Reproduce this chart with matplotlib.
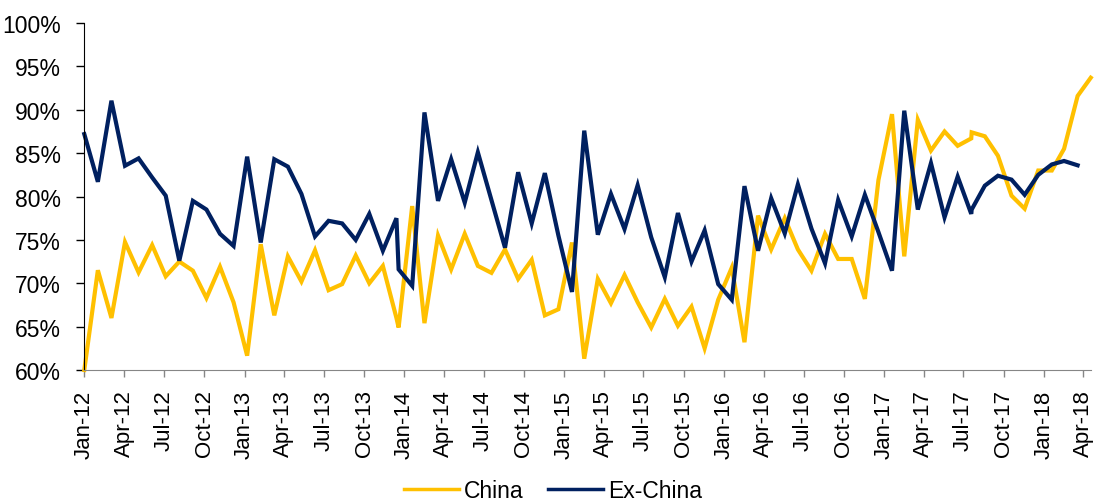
import numpy as np
import pandas as pd
import matplotlib
matplotlib.use("Agg")
import matplotlib.pyplot as plt
import matplotlib.dates as mdates
from matplotlib.ticker import FuncFormatter

plt.rcParams['font.family'] = ['Liberation Sans', 'DejaVu Sans']

# point dates as they sit on the source's date axis (Jan-12 .. May-18, Aug-17 twice)
dates_1213 = pd.date_range('2012-01-01', periods=24, freq='31D')
dates_1417 = pd.date_range('2014-01-01', '2017-08-01', freq='MS') - pd.Timedelta(days=13)
dates_aug17b = pd.DatetimeIndex(['2017-07-20'])
dates_1718 = pd.date_range('2017-09-01', '2018-05-01', freq='MS') - pd.Timedelta(days=13)
dates = dates_1213.append(dates_1417).append(dates_aug17b).append(dates_1718)

china = [60.0, 71.5, 66.0, 74.75, 71.25, 74.4, 70.8, 72.5, 71.45, 68.3, 71.9, 67.8,
         61.65, 74.5, 66.3, 73.1, 70.2, 73.8, 69.2, 69.9, 73.2, 70.0, 72.0, 66.0,
         64.9, 78.9, 65.4, 75.5, 71.6, 75.7, 72.0, 71.2, 73.9, 70.5, 72.7, 66.3,
         67.0, 74.7, 61.3, 70.5, 67.7, 70.95, 67.8, 64.9, 68.2, 65.1, 67.3, 62.5,
         68.1, 71.8, 63.2, 77.8, 73.9, 77.5, 73.9, 71.45, 75.7, 72.8, 72.8, 68.2,
         81.9, 89.5, 73.1, 88.85, 85.3, 87.5, 85.85, 86.7, 87.4,
         86.95, 84.7, 80.1, 78.6, 83.0, 83.0, 85.5, 91.6, 93.7]

ex_china = [87.2, 81.7, 91.05, 83.55, 84.4, 82.2, 80.1, 72.6, 79.5, 78.5, 75.7, 74.3,
            84.6, 74.7, 84.3, 83.45, 80.3, 75.4, 77.2, 76.9, 75.0, 78.0, 73.75, 77.5,
            71.6, 69.7, 89.7, 79.5, 84.3, 79.3, 85.1, 79.6, 74.1, 82.8, 76.9, 82.7,
            75.5, 69.0, 87.6, 75.6, 80.3, 76.25, 81.3, 75.3, 70.7, 78.1, 72.5, 76.1,
            69.9, 68.1, 81.2, 73.75, 79.8, 75.75, 81.4, 76.3, 72.3, 79.6, 75.4, 80.2,
            75.9, 71.45, 89.9, 78.5, 83.85, 77.6, 82.3, 78.0, 78.5,
            81.25, 82.4, 81.95, 80.2, 82.5, 83.7, 84.1, 83.6]

tick_dates = pd.date_range('2012-01-01', '2018-04-01', freq='3MS')

fig = plt.figure(figsize=(10.99, 5.02), dpi=100)
ax = fig.add_axes([0.0767, 0.261, 0.9158, 0.691])

ax.plot(dates, china, color='#FFC000', lw=3.0, label='China', clip_on=False,
        solid_joinstyle='miter')
ax.plot(dates[:len(ex_china)], ex_china, color='#002060', lw=3.0, label='Ex-China',
        clip_on=False, solid_joinstyle='miter')

ax.set_ylim(60, 100)
ax.set_yticks(np.arange(60, 101, 5))
ax.yaxis.set_major_formatter(FuncFormatter(lambda v, p: '%d%%' % v))
ax.set_xlim(pd.Timestamp('2012-01-01'), dates[-1])
ax.set_xticks(tick_dates)
ax.xaxis.set_major_formatter(mdates.DateFormatter('%b-%y'))

for s in ['top', 'right']:
    ax.spines[s].set_visible(False)
ax.spines['left'].set_color('#000000')
ax.spines['bottom'].set_color('#868686')
ax.tick_params(axis='y', direction='out', length=6, width=1, color='#000000',
               pad=11, labelsize=16.5, labelcolor='#000000')
ax.tick_params(axis='x', direction='out', length=5, width=1, color='#868686',
               pad=9, labelsize=16, labelcolor='#000000', labelrotation=90)

leg = fig.legend(loc='lower center', bbox_to_anchor=(0.503, -0.043), ncol=2, frameon=False,
                 fontsize=16.5, handlelength=2.4, handletextpad=0.2, columnspacing=1.1)
for h in leg.get_lines():
    h.set_linewidth(2.5)

fig.savefig('out.png', dpi=100)
